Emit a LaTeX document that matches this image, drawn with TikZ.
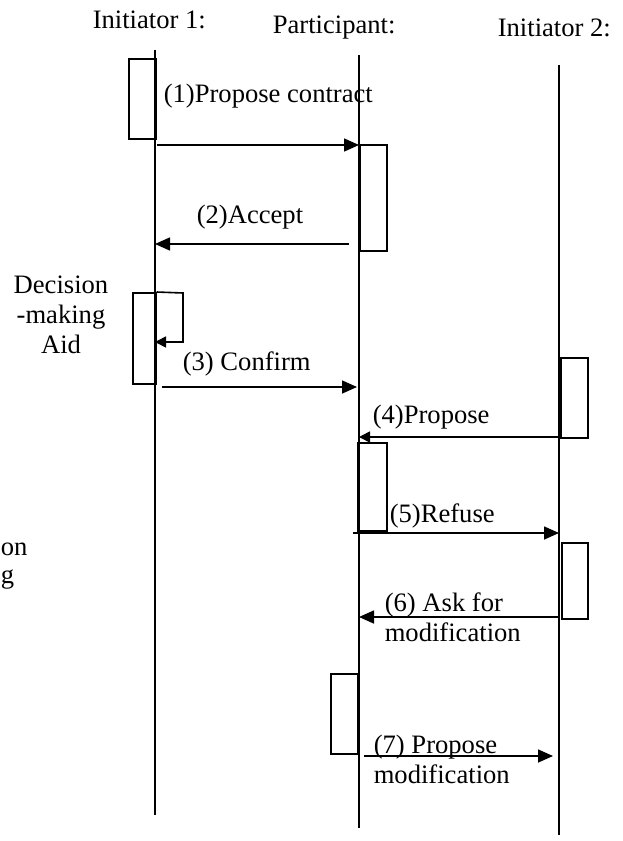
\documentclass[tikz,border=0pt]{standalone}
\usepackage{fontspec}
\setmainfont{Liberation Serif}
\usetikzlibrary{arrows.meta}
\begin{document}
\begin{tikzpicture}[x=1pt,y=-1pt,line width=1.6pt,
  lbl/.style={font=\fontsize{26.6}{30}\selectfont,inner sep=0pt,anchor=base west},
  msg/.style={-{Triangle[length=15pt,width=13pt]}},
  smallmsg/.style={-{Triangle[length=11pt,width=11pt]}},
  actbox/.style={draw,inner sep=0pt,minimum width=27pt,anchor=north west}]
\useasboundingbox (0,0) rectangle (622,841);
% lifelines
\coordinate (L1t) at (155,50);  \coordinate (L1b) at (155,815);
\coordinate (L2t) at (359,55);  \coordinate (L2b) at (359,828);
\coordinate (L3t) at (559,65);  \coordinate (L3b) at (559,835);
\draw (L1t) -- (L1b);
\draw (L2t) -- (L2b);
\draw (L3t) -- (L3b);
% headers
\node[lbl] (h1) at (92,28) {Initiator 1:};
\node[lbl] (h2) at (272,33) {Participant:};
\node[lbl] (h3) at (497,36) {Initiator 2:};
% activation boxes
\node[actbox,minimum height=80pt] (a1) at (128,58) {};
\node[actbox,minimum height=106pt] (p1) at (359,144) {};
\node[actbox,minimum width=23pt,minimum height=91pt] (a2) at (132,292) {};
\node[actbox,minimum height=80pt] (i1) at (560,357) {};
\node[actbox,minimum width=29pt,minimum height=88pt] (p2) at (357,442) {};
\node[actbox,minimum width=26pt,minimum height=76pt] (i2) at (561,542) {};
\node[actbox,minimum height=80pt] (p3) at (330,673) {};
% message 1
\coordinate (m1s) at (157,145);
\draw[msg] (m1s) -- (m1s -| L2t);
\node[lbl] (t1) at (163,102) {(1)Propose contract};
% message 2
\coordinate (m2s) at (349,244);
\draw[msg] (m2s) -- (m2s -| L1t);
\node[lbl] (t2) at (196,223) {(2)Accept};
% self message
\coordinate (sA) at (183,293);
\coordinate (sB) at (183,342);
\draw[smallmsg] (a2.north east) -- (sA) -- (sB) -- (sB -| L1t);
\node[lbl,anchor=base,align=center] (dm) at (61,353) {Decision\\-making\\Aid};
% message 3
\coordinate (m3s) at (162,387);
\draw[msg] (m3s) -- (357,387);
\node[lbl] (t3) at (182,370) {(3) Confirm};
% message 4
\coordinate (m4s) at (559,437);
\draw[smallmsg] (m4s) -- (m4s -| L2t);
\node[lbl] (t4) at (372,423) {(4)Propose};
% message 5
\coordinate (m5s) at (353,533);
\draw[msg] (m5s) -- (m5s -| L3t);
\node[lbl] (t5) at (389,522) {(5)Refuse};
% message 6
\coordinate (m6s) at (559,617);
\draw[msg] (m6s) -- (m6s -| L2t);
\node[lbl,align=left] (t6) at (384,641) {(6) Ask for\\modification};
% message 7
\coordinate (m7s) at (364,756);
\draw[msg] (m7s) -- (553,756);
\node[lbl,align=left] (t7) at (373,783) {(7) Propose\\modification};
% partly visible text at left edge
\node[lbl] (c1) at (0,555) {on};
\node[lbl] (c2) at (0,583) {g};
\end{tikzpicture}
\end{document}
